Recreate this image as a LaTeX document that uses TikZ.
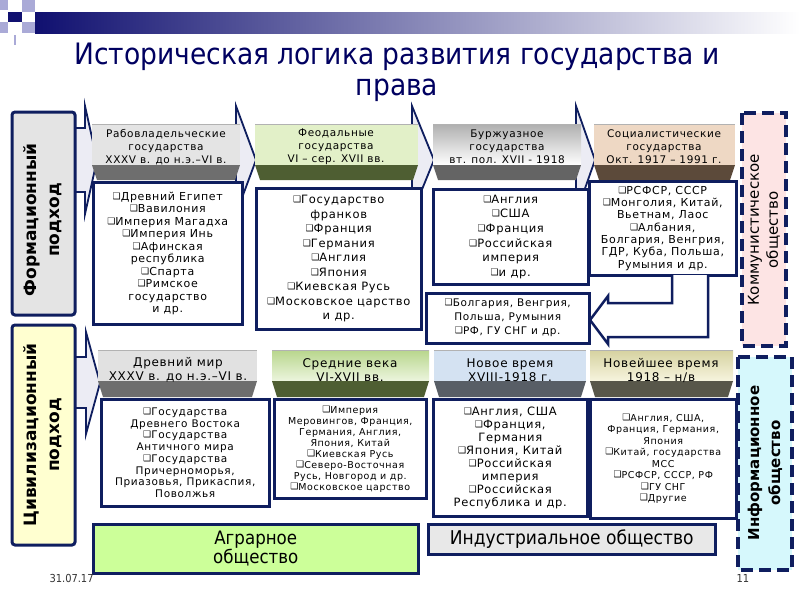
\documentclass[tikz,border=0pt]{standalone}
\usepackage{fontspec}
\setmainfont{DejaVu Sans}
\newfontfamily\boxfont[LetterSpace=6]{DejaVu Sans}
\newfontfamily\condfont{DejaVu Sans Condensed}
\usetikzlibrary{positioning}

\definecolor{barnavy}{RGB}{16,16,112}
\definecolor{sqlight}{RGB}{170,170,215}
\definecolor{titlenavy}{RGB}{0,0,96}
\definecolor{navy}{RGB}{15,30,95}
\definecolor{arrowfill}{RGB}{236,236,244}
\definecolor{formgrey}{RGB}{228,228,228}
\definecolor{bandgrey}{RGB}{110,110,110}
\definecolor{feudgreen}{RGB}{226,240,200}
\definecolor{bandolive}{RGB}{78,94,50}
\definecolor{silvertop}{RGB}{175,175,175}
\definecolor{bandsilver}{RGB}{100,100,100}
\definecolor{socpeach}{RGB}{238,216,196}
\definecolor{bandbrown}{RGB}{92,74,58}
\definecolor{civgrey}{RGB}{225,225,225}
\definecolor{civgreentop}{RGB}{184,214,140}
\definecolor{civgreenbot}{RGB}{236,245,222}
\definecolor{civblue}{RGB}{212,226,242}
\definecolor{bandslate}{RGB}{88,94,102}
\definecolor{khakitop}{RGB}{214,210,160}
\definecolor{khakibot}{RGB}{246,244,222}
\definecolor{bandkhaki}{RGB}{88,87,74}
\definecolor{pinkfill}{RGB}{253,228,228}
\definecolor{cyanfill}{RGB}{214,248,252}
\definecolor{yellowfill}{RGB}{255,255,208}
\definecolor{agrargreen}{RGB}{204,255,153}
\definecolor{indgrey}{RGB}{232,232,232}

\newcommand{\bx}{{\fontsize{9}{9}\selectfont\raisebox{1pt}{❑}}}

\tikzset{
  bodybox/.style={draw=navy, line width=2.5pt, fill=white, anchor=north west, inner sep=2pt, align=center},
  fsz/.style 2 args={font=\boxfont\fontsize{#1}{#2}\selectfont},
  headtext/.style={align=center, inner sep=0pt},
  headline/.style={gray!60, line width=0.8pt},
  sidebox/.style={draw=navy, line width=3pt, rounded corners=3pt},
  sidetext/.style={rotate=90, align=center, font=\bfseries\fontsize{17}{23}\selectfont},
  dashbox/.style={draw=navy, line width=3.5pt, dash pattern=on 12pt off 6pt},
  arrowhd/.style={draw=navy, line width=1.8pt, fill=arrowfill, line join=miter},
  bottombox/.style={draw=navy, line width=2.5pt, anchor=north west, align=center},
}

\begin{document}
\begin{tikzpicture}[x=1pt, y=-1pt]
 \useasboundingbox (0,0) rectangle (800,600);

 % title bar
 \fill[sqlight] (0,0) rectangle (8,10);
 \fill[sqlight] (22,0) rectangle (35,12);
 \fill[barnavy] (8,12) rectangle (22,22);
 \fill[sqlight] (22,22) rectangle (35,33);
 \fill[sqlight] (0,22) rectangle (8,33);
 \draw[sqlight, line width=2pt] (15,35) -- (15,45);
 \shade[left color=barnavy, right color=white] (35,12) rectangle (800,33);
 \node[font=\condfont\fontsize{29.5}{31}\selectfont, text=titlenavy, align=center] (title) at (397,72)
   {Историческая логика развития государства и\\права};

 % arrows behind the headers
 \draw[arrowhd] (70,128) -- (85,128) -- (85,106) -- (97,160) -- (85,214) -- (85,192) -- (70,192);
 \draw[arrowhd] (236,106) -- (256,160) -- (236,214) -- cycle;
 \draw[arrowhd] (412,106) -- (434,160) -- (412,214) -- cycle;
 \draw[arrowhd] (576,106) -- (595,160) -- (576,214) -- cycle;
 \draw[arrowhd] (70,357) -- (86,357) -- (86,332) -- (100,383) -- (86,434) -- (86,408) -- (70,408);

 % formational headers
 \fill[formgrey] (92,124) rectangle (240,165);
 \fill[bandgrey] (92,165) -- (240,165) -- (235,180) -- (97,180) -- cycle;
 \draw[headline] (92,124) -- (240,124);
 \node[headtext, fsz={10.5}{13}] (fhead1) at (166,147) {Рабовладельческие\\государства\\XXXV в. до н.э.–VI в.};

 \fill[feudgreen] (255,124) rectangle (418,165);
 \fill[bandolive] (255,165) -- (418,165) -- (413,180) -- (260,180) -- cycle;
 \draw[headline] (255,124) -- (418,124);
 \node[headtext, fsz={10.5}{13}] (fhead2) at (336,147) {Феодальные\\государства\\VI – сер. XVII вв.};

 \shade[top color=silvertop, bottom color=white] (433,124) rectangle (581,165);
 \fill[bandsilver] (433,165) -- (581,165) -- (576,180) -- (438,180) -- cycle;
 \draw[headline] (433,124) -- (581,124);
 \node[headtext, fsz={10.5}{13}] (fhead3) at (507,147) {Буржуазное\\государства\\вт. пол. XVII - 1918};

 \fill[socpeach] (594,124) rectangle (735,165);
 \fill[bandbrown] (594,165) -- (735,165) -- (730,180) -- (599,180) -- cycle;
 \draw[headline] (594,124) -- (735,124);
 \node[headtext, fsz={10.5}{13}] (fhead4) at (664,147) {Социалистические\\государства\\Окт. 1917 – 1991 г.};

 % formational bodies
 \node[bodybox, fsz={11}{12.5}, minimum width=149pt, minimum height=142pt] (fbody1) at (92,181)
   {\bx Древний Египет\\\bx Вавилония\\\bx Империя Магадха\\\bx Империя Инь\\\bx Афинская\\республика\\\bx Спарта\\\bx Римское\\государство\\и др.};
 \node[bodybox, fsz={11.5}{14.5}, minimum width=165pt, minimum height=141pt] (fbody2) at (255,187)
   {\bx Государство\\франков\\\bx Франция\\\bx Германия\\\bx Англия\\\bx Япония\\\bx Киевская Русь\\\bx Московское царство\\и др.};
 \node[bodybox, fsz={11.5}{14.6}, minimum width=155pt, minimum height=95pt] (fbody3) at (432,188)
   {\bx Англия\\\bx США\\\bx Франция\\\bx Российская\\империя\\\bx и др.};
 \node[bodybox, fsz={11}{12.3}, minimum width=147pt, minimum height=94pt] (fbody4) at (588,180)
   {\bx РСФСР, СССР\\\bx Монголия, Китай,\\Вьетнам, Лаос\\\bx Албания,\\Болгария, Венгрия,\\ГДР, Куба, Польша,\\Румыния и др.};
 \node[bodybox, fsz={10.5}{14}, minimum width=163pt, minimum height=50pt] (fextra) at (425,292)
   {\bx Болгария, Венгрия,\\Польша, Румыния\\\bx РФ, ГУ СНГ и др.};

 % bent arrow
 \draw[navy, line width=2.5pt, fill=white, line join=miter] (672,275) -- (672,303) -- (608,303) -- (608,296)
   -- (590,320) -- (608,344) -- (608,337) -- (708,337) -- (708,275);

 % civilizational headers
 \fill[civgrey] (98,350) rectangle (257,381);
 \fill[bandgrey] (98,381) -- (257,381) -- (252,397) -- (103,397) -- cycle;
 \draw[headline] (98,350) -- (257,350);
 \node[headtext, fsz={12}{14}] (chead1) at (178,370) {Древний мир\\XXXV в. до н.э.–VI в.};

 \shade[top color=civgreentop, bottom color=civgreenbot] (272,350) rectangle (429,381);
 \fill[bandolive] (272,381) -- (429,381) -- (424,397) -- (277,397) -- cycle;
 \draw[headline] (272,350) -- (429,350);
 \node[headtext, fsz={12}{14}] (chead2) at (350,370) {Средние века\\VI-XVII вв.};

 \fill[civblue] (434,350) rectangle (586,381);
 \fill[bandslate] (434,381) -- (586,381) -- (581,397) -- (439,397) -- cycle;
 \draw[headline] (434,350) -- (586,350);
 \node[headtext, fsz={12}{14}] (chead3) at (510,370) {Новое время\\XVIII-1918 г.};

 \shade[top color=khakitop, bottom color=khakibot] (590,350) rectangle (733,381);
 \fill[bandkhaki] (590,381) -- (733,381) -- (728,397) -- (595,397) -- cycle;
 \draw[headline] (590,350) -- (733,350);
 \node[headtext, fsz={12}{14}] (chead4) at (661,370) {Новейшее время\\1918 – н/в};

 % civilizational bodies
 \node[bodybox, fsz={10.5}{11.7}, minimum width=168pt, minimum height=107pt] (cbody1) at (100,398)
   {\bx Государства\\Древнего Востока\\\bx Государства\\Античного мира\\\bx Государства\\Причерноморья,\\Приазовья, Прикаспия,\\Поволжья};
 \node[bodybox, fsz={9.5}{11}, minimum width=152pt, minimum height=99pt] (cbody2) at (273,398)
   {\bx Империя\\Меровингов, Франция,\\Германия, Англия,\\Япония, Китай\\\bx Киевская Русь\\\bx Северо-Восточная\\Русь, Новгород и др.\\\bx Московское царство};
 \node[bodybox, fsz={11.5}{13}, minimum width=154pt, minimum height=117pt] (cbody3) at (432,398)
   {\bx Англия, США\\\bx Франция,\\Германия\\\bx Япония, Китай\\\bx Российская\\империя\\\bx Российская\\Республика и др.};
 \node[bodybox, fsz={9.5}{11.5}, minimum width=146pt, minimum height=119pt] (cbody4) at (589,398)
   {\bx Англия, США,\\Франция, Германия,\\Япония\\\bx Китай, государства\\МСС\\\bx РСФСР, СССР, РФ\\\bx ГУ СНГ\\\bx Другие};

 % society boxes
 \draw[dashbox, fill=pinkfill] (742,113) rectangle (786,346);
 \node[rotate=90, align=center, font=\fontsize{15}{19}\selectfont] (commun) at (764,230) {Коммунистическое\\общество};
 \draw[dashbox, fill=cyanfill] (738,357) rectangle (792,570);
 \node[rotate=90, align=center, font=\bfseries\fontsize{15}{21}\selectfont] (inform) at (765,463) {Информационное\\общество};

 % approach labels
 \draw[sidebox, fill=formgrey] (12,112) rectangle (75,315);
 \node[sidetext] (formlab) at (43,220) {Формационный\\подход};
 \draw[sidebox, fill=yellowfill] (12,325) rectangle (75,545);
 \node[sidetext] (civlab) at (43,435) {Цивилизационный\\подход};

 % bottom boxes
 \node[bottombox, fill=agrargreen, minimum width=325pt, minimum height=49pt, font=\condfont\fontsize{18.5}{16}\selectfont] (agrar) at (92,523)
   {Аграрное\\общество};
 \node[bottombox, fill=indgrey, minimum width=287pt, minimum height=30pt, font=\condfont\fontsize{19}{20}\selectfont] (indust) at (427,523)
   {Индустриальное общество};

 \node[font=\condfont\fontsize{11}{12}\selectfont, text=black!80, anchor=west] (date) at (46,578) {31.07.17};
 \node[font=\condfont\fontsize{11}{12}\selectfont, text=black!80, anchor=west] (page) at (733,578) {11};
\end{tikzpicture}
\end{document}
